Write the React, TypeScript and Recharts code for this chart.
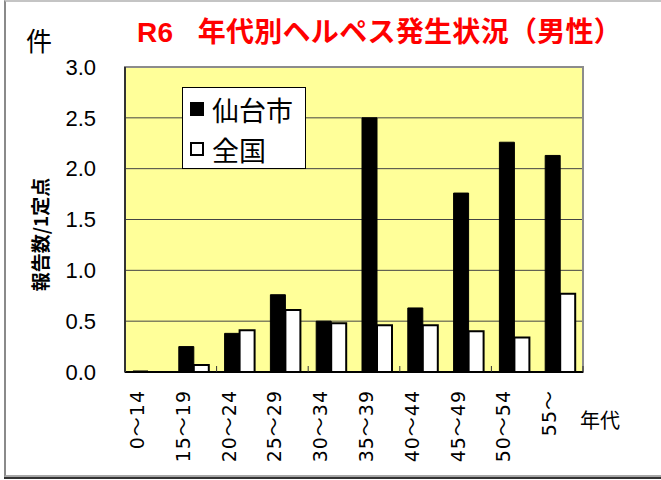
import React from "react";
import { BarChart, Bar, XAxis, YAxis, CartesianGrid, Legend, ReferenceArea } from "recharts";

// 年代別ヘルペス発生状況（男性） R6
const ageGroups = ["0～14", "15～19", "20～24", "25～29", "30～34", "35～39", "40～44", "45～49", "50～54", "55～"];
const sendai = [0.01, 0.25, 0.38, 0.76, 0.5, 2.5, 0.63, 1.76, 2.26, 2.13];
const zenkoku = [0, 0.07, 0.41, 0.61, 0.48, 0.46, 0.46, 0.4, 0.34, 0.77];
const yTicks = [0, 0.5, 1.0, 1.5, 2.0, 2.5, 3.0];
const seriesNames = ["仙台市", "全国"];

const data = ageGroups.map((g, i) => ({ name: g, sendai: sendai[i], zenkoku: zenkoku[i] }));

const W = 661;
const H = 480;
const margin = { top: 67, right: 78, bottom: 0, left: 0 };
const yAxisWidth = 125;
const band = (W - margin.left - margin.right - yAxisWidth) / ageGroups.length;

const jp = '"Noto Sans CJK JP", sans-serif';

const XTick = (props: any) => {
  const { x, y, payload, index } = props;
  const tx = x - 4;
  const ty = y + 18;
  return (
    <g>
      {index % 2 === 1 && (
        <line x1={x + band / 2} x2={x + band / 2} y1={y} y2={y - 6} stroke="#333" strokeWidth={1} />
      )}
      <text
        x={tx}
        y={ty}
        transform={`rotate(-90, ${tx}, ${ty})`}
        textAnchor="end"
        fontSize={19}
        letterSpacing={1}
        fontFamily='"DejaVu Sans", "Noto Sans CJK JP", sans-serif'
        fill="#000"
      >
        {payload.value}
      </text>
    </g>
  );
};

const YLabel = (props: any) => {
  const vb = props.viewBox || { x: 0, y: 0, width: 0, height: 0 };
  const cx = vb.x + 39;
  const cy = vb.y + vb.height / 2 + 15;
  return (
    <text
      x={cx}
      y={cy}
      transform={`rotate(-90, ${cx}, ${cy})`}
      textAnchor="middle"
      dominantBaseline="central"
      fontSize={19}
      fontWeight="bold"
      fontFamily={jp}
      fill="#000"
    >
      報告数/1定点
    </text>
  );
};

const XLabel = (props: any) => {
  const vb = props.viewBox || { x: 0, y: 0, width: 0, height: 0 };
  return (
    <text
      x={vb.x + vb.width + 17}
      y={vb.y + 47}
      textAnchor="middle"
      dominantBaseline="central"
      fontSize={20}
      fontFamily={jp}
      fill="#000"
    >
      年代
    </text>
  );
};

const LegendBox = (props: any) => {
  const payload = props.payload || [];
  return (
    <div
      style={{
        boxSizing: "border-box",
        width: 124,
        height: 82,
        border: "1px solid #000",
        background: "#fff",
        paddingTop: 1,
      }}
    >
      {payload.map((p: any, i: number) => (
        <div key={i} style={{ display: "flex", alignItems: "center", height: 40 }}>
          <span
            style={{
              display: "inline-block",
              boxSizing: "border-box",
              width: 14,
              height: 14,
              marginLeft: 7,
              marginRight: 8,
              background: p.color,
              border: "2px solid #000",
            }}
          />
          <span style={{ fontSize: 27, lineHeight: 1, fontFamily: jp, color: "#000" }}>{p.value}</span>
        </div>
      ))}
    </div>
  );
};

export default function App() {
  return (
    <div style={{ position: "absolute", left: 0, top: 0, width: W, height: H, background: "#fff", overflow: "hidden" }}>
      <div
        style={{
          position: "absolute",
          left: 4,
          top: 0,
          width: 700,
          height: 473,
          borderLeft: "2px solid #8a8a8a",
          borderTop: "2px solid #c4c4c4",
          borderBottom: "2px solid #a8a8a8",
        }}
      />
      <div style={{ position: "absolute", left: 4, top: 477, width: 700, borderTop: "2px solid #333" }} />
      <div style={{ position: "absolute", left: 0, top: 0 }}>
        <BarChart width={W} height={H} data={data} margin={margin} barGap={0} barSize={15}>
          <CartesianGrid vertical={false} stroke="#444" fill="#FFFF99" fillOpacity={1} />
          <ReferenceArea y1={0} y2={3} fill="none" stroke="#8c8c8c" strokeWidth={2} ifOverflow="visible" />
          <XAxis
            dataKey="name"
            interval={0}
            height={H - margin.top - 305}
            tickSize={0}
            tickMargin={0}
            tickLine={false}
            axisLine={{ stroke: "#000", strokeWidth: 2 }}
            tick={<XTick />}
            label={<XLabel />}
          />
          <YAxis
            width={yAxisWidth}
            domain={[0, 3]}
            ticks={yTicks}
            interval={0}
            tickFormatter={(v: number) => v.toFixed(1)}
            tickSize={0}
            tickMargin={29}
            tickLine={false}
            axisLine={{ stroke: "#333", strokeWidth: 2 }}
            tick={{ fontSize: 22, fontFamily: '"Liberation Sans", Arial, sans-serif', fill: "#000" }}
            label={<YLabel />}
          />
          <Legend
            layout="vertical"
            align="center"
            verticalAlign="middle"
            wrapperStyle={{ left: 182, top: 87, width: 124, height: 82 }}
            content={<LegendBox />}
          />
          <Bar dataKey="sendai" name={seriesNames[0]} fill="#000" stroke="#000" strokeWidth={1} isAnimationActive={false} />
          <Bar dataKey="zenkoku" name={seriesNames[1]} fill="#fff" stroke="#000" strokeWidth={2} isAnimationActive={false} />
        </BarChart>
      </div>
      <div
        style={{
          position: "absolute",
          left: 137,
          top: 19,
          fontSize: 28,
          lineHeight: 1,
          fontWeight: "bold",
          color: "#f00",
          whiteSpace: "nowrap",
          letterSpacing: 0.3,
          fontFamily: '"Liberation Sans", "Noto Sans CJK JP", sans-serif',
        }}
      >
        R6&nbsp;&nbsp;&nbsp;年代別ヘルペス発生状況（男性）
      </div>
      <div
        style={{
          position: "absolute",
          left: 26,
          top: 27,
          fontSize: 26,
          lineHeight: 1,
          color: "#000",
          fontFamily: jp,
        }}
      >
        件
      </div>
    </div>
  );
}
